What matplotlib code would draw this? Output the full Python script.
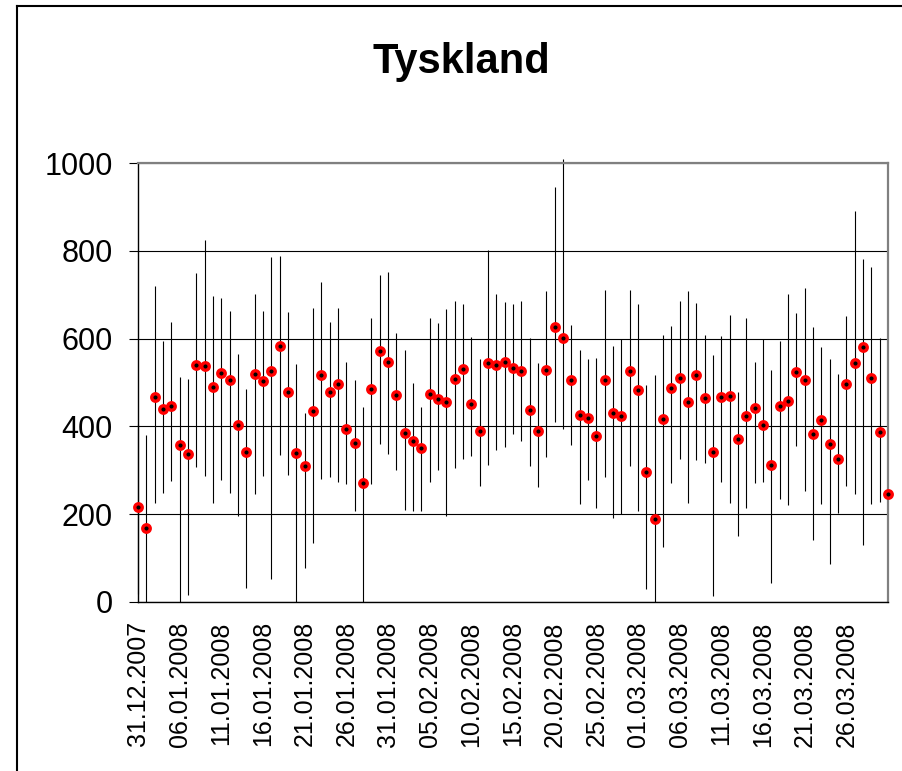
import matplotlib
matplotlib.use("Agg")
import matplotlib.pyplot as plt
from matplotlib.lines import Line2D

# daily values, one category per date (01.01.2008 is missing in the source)
means = [217, 169, 466, 440, 446, 358, 338, 540, 538, 490,
         522, 505, 402, 341, 520, 503, 526, 583, 478, 340,
         309, 434, 516, 478, 496, 394, 363, 271, 485, 571,
         547, 471, 385, 367, 351, 473, 462, 455, 509, 531,
         452, 389, 545, 541, 547, 533, 527, 438, 389, 529,
         627, 602, 506, 425, 420, 379, 505, 431, 424, 527,
         484, 295, 189, 417, 487, 510, 456, 516, 465, 341,
         466, 469, 372, 424, 441, 404, 311, 446, 458, 525,
         506, 383, 414, 360, 325, 496, 544, 581, 510, 387,
         246]
highs = [405, 380, 719, 595, 637, 513, 509, 749, 825, 698,
         692, 663, 564, 486, 703, 663, 786, 789, 660, 542,
         430, 671, 730, 637, 670, 547, 506, 445, 646, 745,
         751, 614, 573, 499, 443, 646, 635, 668, 686, 678,
         603, 553, 802, 702, 683, 680, 687, 602, 544, 708,
         947, 1009, 631, 573, 554, 556, 710, 583, 600, 710,
         680, 494, 517, 608, 629, 685, 709, 681, 608, 563,
         605, 653, 479, 646, 547, 599, 529, 595, 701, 658,
         715, 626, 581, 554, 519, 652, 891, 782, 763, 601,
         246]
lows = [17, 0, 224, 247, 276, 0, 15, 308, 287, 226,
        278, 249, 196, 32, 245, 286, 51, 335, 288, 0,
        78, 135, 281, 285, 274, 268, 206, 0, 268, 359,
        338, 300, 210, 208, 208, 272, 300, 196, 304, 325,
        333, 265, 311, 346, 354, 383, 367, 310, 262, 331,
        411, 393, 357, 222, 278, 214, 285, 191, 199, 310,
        208, 30, 0, 125, 270, 325, 224, 323, 316, 14,
        274, 226, 151, 213, 271, 272, 43, 235, 220, 356,
        252, 140, 223, 85, 203, 265, 245, 130, 222, 227,
        246]

tick_labels = ["31.12.2007", "06.01.2008", "11.01.2008", "16.01.2008",
               "21.01.2008", "26.01.2008", "31.01.2008", "05.02.2008",
               "10.02.2008", "15.02.2008", "20.02.2008", "25.02.2008",
               "01.03.2008", "06.03.2008", "11.03.2008", "16.03.2008",
               "21.03.2008", "26.03.2008"]

plt.rcParams['font.family'] = ['Liberation Sans', 'DejaVu Sans']

W, H = 903, 771
fig = plt.figure(figsize=(W / 100, H / 100), dpi=100)

# plot area in pixels: x 138..888, y 163..602
ax = fig.add_axes([138 / W, 1 - 601.7 / H, 750 / W, (601.7 - 163.3) / H])

x = list(range(len(means)))
ax.vlines(x, lows, highs, colors='black', lw=0.8, zorder=2, clip_on=False)
ax.plot(x, means, linestyle='none', marker='o', markersize=5.4,
        markerfacecolor='black', markeredgecolor='red', markeredgewidth=2.4,
        zorder=3, clip_on=False)

ax.set_xlim(0, len(means) - 1)
ax.set_ylim(0, 1000)
ax.set_yticks(range(0, 1001, 200))
ax.set_xticks(range(0, 5 * len(tick_labels), 5))
ax.set_xticklabels(tick_labels, rotation=90)

ax.tick_params(axis='y', direction='out', length=6.5, width=0.8, pad=11.5,
               labelsize=22, colors='black')
ax.tick_params(axis='x', length=0, pad=14, labelsize=18)

ax.yaxis.grid(True, color='black', lw=0.8)
ax.set_axisbelow(True)

for side in ('top', 'right'):
    ax.spines[side].set_color('#808080')
    ax.spines[side].set_linewidth(1.6)
for side in ('left', 'bottom'):
    ax.spines[side].set_color('black')
    ax.spines[side].set_linewidth(1.0)

fig.text(461 / W, 1 - 73.3 / H, "Tyskland", ha='center', va='baseline',
         fontsize=30, fontweight='bold')

# outer chart frame (only left and top edges are inside the image)
fig.add_artist(Line2D([17 / W, 17 / W], [1 - 6 / H, 0], color='black',
                      lw=1.5, transform=fig.transFigure))
fig.add_artist(Line2D([17 / W, 1], [1 - 6 / H, 1 - 6 / H], color='black',
                      lw=1.5, transform=fig.transFigure))

fig.savefig("out.png", dpi=100)
